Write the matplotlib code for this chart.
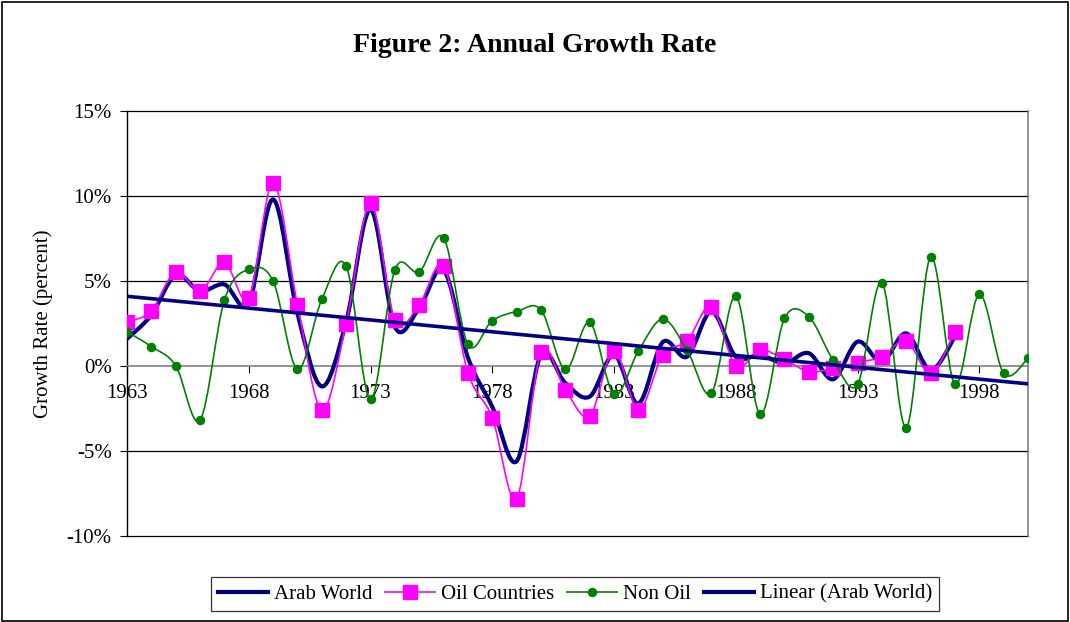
import matplotlib.pyplot as plt
import numpy as np
from matplotlib.path import Path
from matplotlib.patches import PathPatch, Rectangle
from matplotlib.lines import Line2D

plt.rcParams['font.family'] = ['Liberation Serif', 'DejaVu Serif']

# values (percent)
years = list(range(1963, 2001))
arab_world = [1.6, 3.0, 5.35, 4.4, 4.8, 3.7, 9.8, 3.1, -1.2, 2.6,
              9.2, 2.3, 3.4, 5.65, 0.5, -2.4, -5.6, 0.65, -1.0, -1.8,
              0.65, -2.2, 1.4, 0.55, 3.2, 0.55, 0.65, 0.16, 0.75, -0.78,
              1.43, 0.25, 1.92, -0.24, 1.73]
oil_countries = [2.57, 3.24, 5.55, 4.4, 6.1, 4.0, 10.75, 3.6, -2.6, 2.5,
                 9.57, 2.7, 3.6, 5.9, -0.39, -3.04, -7.8, 0.8, -1.4, -2.95,
                 0.9, -2.6, 0.65, 1.47, 3.5, 0.0, 0.94, 0.39, -0.33, -0.14,
                 0.2, 0.55, 1.49, -0.43, 2.02]
non_oil = [2.02, 1.14, 0.02, -3.18, 3.88, 5.69, 5.0, -0.2, 3.92, 5.88,
           -1.96, 5.65, 5.53, 7.55, 1.27, 2.67, 3.2, 3.3, -0.2, 2.57,
           -1.67, 0.88, 2.76, 0.94, -1.6, 4.12, -2.84, 2.8, 2.9, 0.35,
           -1.08, 4.9, -3.63, 6.41, -1.08, 4.22, -0.43, 0.45]
trend_years = [1963, 2000]
trend_values = [4.1, -1.05]

ytick_vals = [-10, -5, 0, 5, 10, 15]
ytick_labels = ['-10%', '-5%', '0%', '5%', '10%', '15%']
xtick_years = [1963, 1968, 1973, 1978, 1983, 1988, 1993, 1998]


def smooth_patch(x, y, color, lw, z):
    # Excel-style smoothed line: cubic Bezier through every point
    x = np.asarray(x, float)
    y = np.asarray(y, float)
    n = len(x)
    verts = [(x[0], y[0])]
    codes = [Path.MOVETO]
    for i in range(n - 1):
        a = max(i - 1, 0)
        b = min(i + 2, n - 1)
        c1 = (x[i] + (x[i + 1] - x[a]) / 6, y[i] + (y[i + 1] - y[a]) / 6)
        c2 = (x[i + 1] - (x[b] - x[i]) / 6, y[i + 1] - (y[b] - y[i]) / 6)
        verts += [c1, c2, (x[i + 1], y[i + 1])]
        codes += [Path.CURVE4] * 3
    return PathPatch(Path(verts, codes), fill=False, edgecolor=color,
                     lw=lw, zorder=z, capstyle='round', joinstyle='round')


fig = plt.figure(figsize=(10.7, 6.22), dpi=100)
ax = fig.add_axes([127/1070, 1-536/622, (1028-127)/1070, (536-111)/622])

navy = '#000080'
magenta = '#FF00FF'
green = '#008000'

ax.add_patch(smooth_patch(years[:len(arab_world)], arab_world, navy, 3.0, 3))
ax.add_patch(smooth_patch(years[:len(oil_countries)], oil_countries, magenta, 1.2, 4))
ax.plot(years[:len(oil_countries)], oil_countries, linestyle='none', marker='s',
        markersize=10, color=magenta, zorder=5)
ax.add_patch(smooth_patch(years, non_oil, green, 1.2, 6))
ax.plot(years, non_oil, linestyle='none', marker='o', markersize=5.8,
        color=green, zorder=7)
ax.plot(trend_years, trend_values, color=navy, lw=2.6, zorder=8)

ax.set_xlim(1963, 2000)
ax.set_ylim(-10, 15)
ax.set_yticks(ytick_vals)
ax.set_yticklabels(ytick_labels)
ax.set_xticks(xtick_years)
ax.set_xticklabels([str(y) for y in xtick_years])
ax.tick_params(axis='both', labelsize=15, direction='out', length=5, width=0.8)
ax.tick_params(axis='x', pad=8)
ax.tick_params(axis='y', pad=6)

for v in ytick_vals:
    if v != 0:
        ax.axhline(v, color='black', lw=0.9, zorder=1, clip_on=False)

ax.spines['bottom'].set_position(('data', 0))
ax.spines['bottom'].set_color('#808080')
ax.spines['bottom'].set_linewidth(1.2)
ax.spines['top'].set_visible(False)
ax.spines['right'].set_color('#808080')
ax.spines['right'].set_linewidth(1.2)
ax.spines['left'].set_color('black')
ax.spines['left'].set_linewidth(1.0)

ax.set_ylabel('Growth Rate (percent)', fontsize=15, labelpad=10)
fig.text(0.5, 1-45/622, 'Figure 2: Annual Growth Rate', ha='center', va='center',
         fontsize=20, fontweight='bold')

handles = [
    Line2D([], [], color=navy, lw=3.0),
    Line2D([], [], color=magenta, lw=1.2, marker='s', markersize=10),
    Line2D([], [], color=green, lw=1.2, marker='o', markersize=5.8),
    Line2D([], [], color=navy, lw=3.0),
]
leg = fig.legend(handles, ['Arab World', 'Oil Countries', 'Non Oil', 'Linear (Arab World)'],
                 loc='center', bbox_to_anchor=(575/1070, 1-594/622), ncol=4,
                 fontsize=15, frameon=True, fancybox=False, handlelength=2.4,
                 handletextpad=0.3, columnspacing=0.6, borderpad=0.35)
leg.get_frame().set_edgecolor('black')
leg.get_frame().set_linewidth(0.9)

fig.patches.append(Rectangle((0.002, 0.002), 0.996, 0.995, transform=fig.transFigure,
                             fill=False, edgecolor='black', lw=1.2))

fig.savefig('out.png', dpi=100)
